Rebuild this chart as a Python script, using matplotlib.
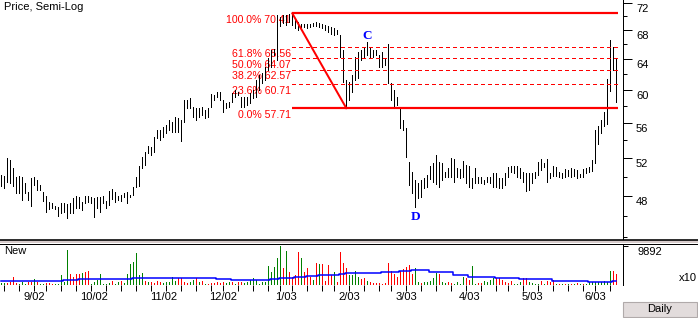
import numpy as np
import pandas as pd
import matplotlib
matplotlib.use('Agg')
import matplotlib.pyplot as plt
from matplotlib.lines import Line2D
from matplotlib.patches import Rectangle
from matplotlib.ticker import NullFormatter

# ---------------- data ----------------
start_date = '2002-08-16'
holidays = ['2002-09-02', '2002-11-28', '2002-12-25', '2003-01-01',
            '2003-01-20', '2003-02-17', '2003-04-18', '2003-05-26']

highs = [
    50.17, 50.06, 51.99, 51.77, 50.91, 49.96, 50.06, 49.96, 49.34, 48.42,
    49.86, 49.96, 49.65, 49.13, 48.42, 48.01, 47.41, 47.31, 47.01, 46.91,
    47.31, 47.31, 47.21, 47.31, 47.81, 48.01, 47.91, 47.41, 48.01, 48.01,
    47.91, 47.81, 47.91, 47.91, 48.01, 47.51, 48.52, 48.72, 48.42, 48.01,
    48.11, 48.31, 48.42, 48.11, 48.93, 49.96, 51.12, 52.10, 52.65, 53.32,
    53.21, 54.33, 55.13, 55.13, 55.48, 55.72, 56.30, 56.07, 56.66, 56.54,
    56.30, 58.71, 58.71, 58.96, 57.86, 57.74, 57.74, 57.86, 57.50, 57.74,
    59.46, 59.33, 59.71, 59.71, 58.71, 58.34, 58.47, 59.58, 59.96, 59.71,
    59.08, 59.08, 59.08, 59.58, 59.96, 61.23, 61.87, 62.13, 62.92, 64.12,
    65.20, 65.34, 70.17, 69.88, 70.17, 70.17, 70.32, 70.41, 69.44, 69.15,
    68.86, 68.86, 68.86, 68.86, 69.00, 69.15, 69.00, 68.86, 68.71, 68.57,
    68.43, 68.28, 68.00, 67.29, 65.20, 61.23, 60.97, 61.87, 64.25, 64.93,
    65.20, 65.48, 66.30, 65.61, 65.20, 65.20, 64.52, 64.93, 64.12, 66.03,
    60.85, 59.96, 59.08, 57.86, 56.30, 55.37, 51.55, 50.49, 49.65, 49.34,
    49.65, 49.86, 50.17, 51.12, 51.44, 52.32, 51.55, 51.44, 50.49, 50.91,
    51.99, 51.88, 50.91, 50.80, 51.66, 51.23, 51.12, 49.86, 50.91, 49.96,
    49.96, 49.65, 49.96, 49.96, 50.38, 50.38, 49.86, 49.86, 50.38, 51.02,
    51.12, 51.12, 51.12, 50.91, 50.49, 50.38, 50.38, 50.38, 50.49, 51.55,
    51.88, 51.44, 51.88, 50.38, 51.12, 51.02, 50.49, 50.38, 50.80, 50.70,
    50.91, 50.80, 50.70, 50.28, 50.80, 50.91, 51.02, 51.77, 55.10, 55.60,
    56.30, 57.30, 61.36, 66.58, 65.61, 63.98,
]

lows = [
    49.03, 48.82, 49.44, 49.34, 49.03, 48.31, 48.31, 47.61, 48.31, 47.61,
    47.01, 49.13, 48.62, 48.62, 47.51, 46.42, 46.72, 46.82, 46.72, 46.04,
    46.33, 46.42, 45.84, 46.33, 46.33, 46.82, 46.82, 46.62, 47.31, 47.41,
    47.31, 45.94, 46.82, 46.42, 47.31, 46.82, 47.11, 47.71, 47.41, 47.61,
    47.51, 47.91, 47.31, 47.91, 48.11, 48.93, 49.03, 50.91, 51.23, 52.54,
    52.32, 52.65, 54.22, 53.99, 54.33, 54.79, 55.13, 54.90, 54.90, 54.90,
    53.88, 56.07, 57.74, 57.74, 56.66, 56.30, 56.66, 56.90, 56.54, 56.66,
    57.86, 58.71, 59.08, 58.71, 57.26, 57.74, 57.86, 58.47, 59.08, 59.33,
    57.86, 57.86, 58.10, 58.34, 58.96, 59.08, 59.96, 60.85, 61.23, 62.53,
    62.92, 64.52, 63.85, 68.57, 69.00, 68.71, 69.15, 68.71, 68.28, 68.00,
    68.43, 68.43, 68.28, 68.43, 68.57, 68.57, 68.43, 68.28, 68.00, 67.72,
    67.43, 67.29, 67.43, 64.25, 60.97, 57.71, 58.71, 59.71, 61.23, 61.49,
    63.85, 64.12, 64.52, 64.25, 64.25, 64.52, 62.92, 62.92, 63.18, 60.85,
    58.71, 57.86, 58.10, 55.37, 55.13, 52.10, 49.13, 48.31, 46.91, 47.81,
    47.91, 48.82, 48.93, 49.75, 49.44, 49.23, 48.93, 49.65, 49.96, 49.96,
    49.96, 49.44, 49.96, 49.86, 49.96, 49.34, 48.93, 48.82, 49.34, 49.34,
    49.34, 49.23, 49.44, 49.34, 48.93, 48.93, 48.82, 48.82, 49.13, 49.96,
    50.49, 50.38, 49.96, 49.86, 49.44, 48.52, 48.62, 49.34, 49.86, 50.17,
    50.70, 51.02, 49.44, 49.86, 50.06, 50.06, 49.96, 49.86, 49.96, 50.06,
    49.96, 50.06, 49.86, 49.96, 49.96, 50.38, 50.49, 50.59, 51.40, 53.54,
    54.79, 55.60, 55.83, 59.83, 62.53, 58.47,
]

volume = [
    600, 400, 400, 850, 2030, 420, 300, 850, 250, 680,
    850, 1520, 850, 250, 250, 420, 420, 170, 200, 200,
    2540, 850, 8880, 2700, 2110, 2700, 2700, 2960, 3210, 3550,
    300, 680, 1270, 2700, 250, 250, 420, 1010, 300, 680,
    1010, 420, 2700, 5240, 5920, 8200, 2540, 3130, 1010, 850,
    850, 600, 1010, 850, 420, 850, 850, 2110, 1010, 1690,
    1690, 850, 420, 850, 1270, 1690, 850, 1010, 300, 300,
    420, 420, 850, 420, 680, 420, 850, 850, 300, 850,
    850, 420, 850, 1270, 1860, 1270, 300, 850, 850, 4900,
    3380, 4650, 6930, 9892, 4230, 8620, 3210, 2110, 2540, 8280,
    6930, 3210, 4400, 2110, 1270, 5490, 5240, 5240, 1010, 5070,
    2540, 3380, 680, 8450, 5490, 4230, 2540, 2540, 3550, 2110,
    1440, 1690, 1010, 680, 420, 600, 420, 170, 420, 5660,
    3550, 2700, 2110, 3550, 4060, 4650, 5070, 2700, 4230, 680,
    420, 680, 850, 1010, 1690, 2960, 2700, 850, 420, 850,
    420, 250, 850, 250, 2110, 1690, 1270, 4900, 250, 420,
    420, 1010, 850, 1270, 1690, 1690, 1690, 1270, 850, 420,
    1010, 250, 250, 850, 1690, 1690, 850, 420, 250, 250,
    1010, 250, 1010, 850, 1270, 200, 200, 200, 200, 200,
    200, 200, 420, 200, 200, 200, 680, 850, 680, 850,
    680, 1010, 850, 3550, 3550, 2700,
]

# G = up day (green volume), R = down day (red volume)
volume_dir = [
    "GGRRRRGGGR", "RGRGGRRRGG", "GGGRRRRGRR", "GGGGGGGRGG", "RGGGGGGGRG",
    "RRRRGGGGGR", "RRRGGRGRGR", "RRRRRGGRGR", "RGGGGGGGGG", "GGGGRGRRRR",
    "GRRRGRGRRR", "RGRRRRGGGG", "RRGRRRRRRR", "RRRRRRRRGG", "RGGGGGRGGR",
    "RGGGGRRGGR", "RGGGGRRRRR", "RGGGRRGGGG", "RGRRRGRGRG", "RGRGRGGGGG",
    "GGGGRR",
]

# volume moving average (stepped), value and number of bars per step
ma_values = [940, 1270, 1520, 1775, 1520, 1270, 1520, 1775, 1950, 2200,
             2540, 2790, 2960, 3300, 3550, 3800, 3210, 2540, 2110, 1690,
             1400, 1100, 1010, 680, 1010]
ma_lengths = [21, 5, 18, 28, 5, 13, 3, 5, 4, 4,
              7, 2, 12, 6, 4, 6, 8, 5, 9, 8,
              11, 3, 9, 8, 2]

price_major = [48, 52, 56, 60, 64, 68, 72]
price_minor = [44, 46, 50, 54, 58, 62, 66, 70]
volume_max_label = 9892

fib_pcts = ["0.0%", "23.6%", "38.2%", "50.0%", "61.8%", "100.0%"]
fib_values = [57.71, 60.71, 62.57, 64.07, 65.56, 70.41]
fib_high_bar = 97
fib_low_bar = 115
wave_labels = ["C", "D"]
wave_bars = [122, 138]

# ---------------- figure ----------------
plt.rcParams['font.family'] = ['Liberation Sans', 'DejaVu Sans']
W, H = 698, 318
fig = plt.figure(figsize=(W / 100, H / 100), dpi=100)
fig.patch.set_facecolor('white')
PT = 0.72  # points per pixel


def fy(py):
    return 1 - py / H


n = len(highs)
x = np.arange(n)
XL = (-1.3 / 3, (623 - 1.3) / 3)

# ---- price panel ----
axp = fig.add_axes([0, fy(239), 623 / W, 239 / H])
axp.set_yscale('log')
axp.set_ylim(43.86, 72.41)
axp.set_xlim(*XL)
for s in ['left', 'top', 'bottom']:
    axp.spines[s].set_visible(False)
axp.spines['right'].set_linewidth(PT)
axp.set_xticks([])
axp.yaxis.tick_right()
axp.set_yticks(price_major)
axp.set_yticks(price_minor, minor=True)
axp.yaxis.set_major_formatter(NullFormatter())
axp.yaxis.set_minor_formatter(NullFormatter())
axp.tick_params(axis='y', which='major', length=9 * PT, width=PT)
axp.tick_params(axis='y', which='minor', length=4 * PT, width=PT)
for v in price_major:
    axp.annotate(str(v), xy=(1, v), xycoords=('axes fraction', 'data'),
                 xytext=(13 * PT, -1.0), textcoords='offset points',
                 ha='left', va='top', fontsize=8, annotation_clip=False)

axp.vlines(x, lows, highs, colors='black', linewidth=PT, zorder=3,
           antialiased=False)

# Fibonacci retracement
x_fib = [fib_high_bar, n - 0.5]
for pct, val in zip(fib_pcts, fib_values):
    if pct in ("0.0%", "100.0%"):
        axp.plot(x_fib, [val, val], color='#ff0000',
                 linewidth=2.2 * PT, zorder=4, solid_capstyle='butt')
    else:
        axp.plot(x_fib, [val, val], color='#ff0000', linewidth=PT,
                 dashes=(4, 3), zorder=4, antialiased=False)
    axp.annotate(f"{pct} {val:.2f}", xy=(fib_high_bar, val),
                 xytext=(-1, -1.2), textcoords='offset points',
                 ha='right', va='top', fontsize=7.6, color='#ff0000',
                 zorder=1)
axp.plot([fib_high_bar, fib_low_bar], [fib_values[-1], fib_values[0]],
         color='#ff0000', linewidth=2 * PT, zorder=4)

axp.annotate(wave_labels[0], xy=(wave_bars[0], highs[wave_bars[0]]),
             xytext=(0, 2.2), textcoords='offset points', ha='center',
             va='baseline', fontsize=9.5, color='#0000ff',
             family='Liberation Serif', fontweight='bold', zorder=5)
axp.annotate(wave_labels[1], xy=(wave_bars[1], lows[wave_bars[1]]),
             xytext=(0, -9.4), textcoords='offset points', ha='center',
             va='baseline', fontsize=9.5, color='#0000ff',
             family='Liberation Serif', fontweight='bold', zorder=5)

fig.text(4 / W, fy(2), "Price, Semi-Log", ha='left', va='top', fontsize=8)

# ---- separator ----
fig.add_artist(Rectangle((0, fy(243)), 1, 3 / H, transform=fig.transFigure,
                         facecolor='#d8cccc', edgecolor='none'))
fig.add_artist(Line2D([0, 1], [fy(239.5)] * 2, color='black',
                      linewidth=1.6 * PT, transform=fig.transFigure))
fig.add_artist(Line2D([0, 1], [fy(243.5)] * 2, color='black',
                      linewidth=1.0 * PT, transform=fig.transFigure))

# ---- volume panel ----
axv = fig.add_axes([0, fy(285), 623 / W, 41 / H])
axv.set_xlim(*XL)
axv.set_ylim(0, volume_max_label * 41 / 39)
for s in ['left', 'top', 'bottom']:
    axv.spines[s].set_visible(False)
axv.spines['right'].set_linewidth(PT)
dirs = ''.join(volume_dir)
vcolors = ['#008000' if c == 'G' else '#ff0000' for c in dirs]
axv.vlines(x, 0, volume, colors=vcolors, linewidth=PT, antialiased=False)
ma = np.repeat(ma_values, ma_lengths)
axv.plot(x, ma, drawstyle='steps-mid', color='#0000ff', linewidth=1.1)

axv.yaxis.tick_right()
axv.set_yticks([volume_max_label])
axv.yaxis.set_major_formatter(NullFormatter())
axv.tick_params(axis='y', length=5 * PT, width=PT)
axv.annotate(str(volume_max_label), xy=(1, volume_max_label),
             xycoords=('axes fraction', 'data'), xytext=(14 * PT, -0.5),
             textcoords='offset points', ha='left', va='top', fontsize=8,
             annotation_clip=False)

dates = pd.bdate_range(start_date, periods=n, freq='C', holidays=holidays)
week_idx = [i for i in range(1, n) if dates[i].weekday() <= dates[i - 1].weekday()]
month_idx = [i for i in range(1, n) if dates[i].month != dates[i - 1].month]
axv.set_xticks(week_idx)
axv.xaxis.set_major_formatter(NullFormatter())
axv.tick_params(axis='x', length=6 * PT, width=PT)
for i in month_idx:
    d = dates[i]
    axv.annotate(f"{d.month}/{d.year % 100:02d}", xy=(i, 0),
                 xycoords=('data', 'axes fraction'), xytext=(0, -7 * PT),
                 textcoords='offset points', ha='center', va='top',
                 fontsize=8, annotation_clip=False)

fig.text(4 / W, fy(246), "New", ha='left', va='top', fontsize=8)
fig.text(697 / W, fy(278), "x10", ha='right', va='center', fontsize=8)

# ---- Daily button ----
fig.add_artist(Rectangle((623 / W, fy(317)), 74 / W, 15 / H,
                         transform=fig.transFigure, facecolor='#e2dcdc',
                         edgecolor='#b0aaaa', linewidth=0.8))
fig.text(660 / W, fy(309.5), "Daily", ha='center', va='center', fontsize=8)

fig.savefig('out.png', dpi=100)
